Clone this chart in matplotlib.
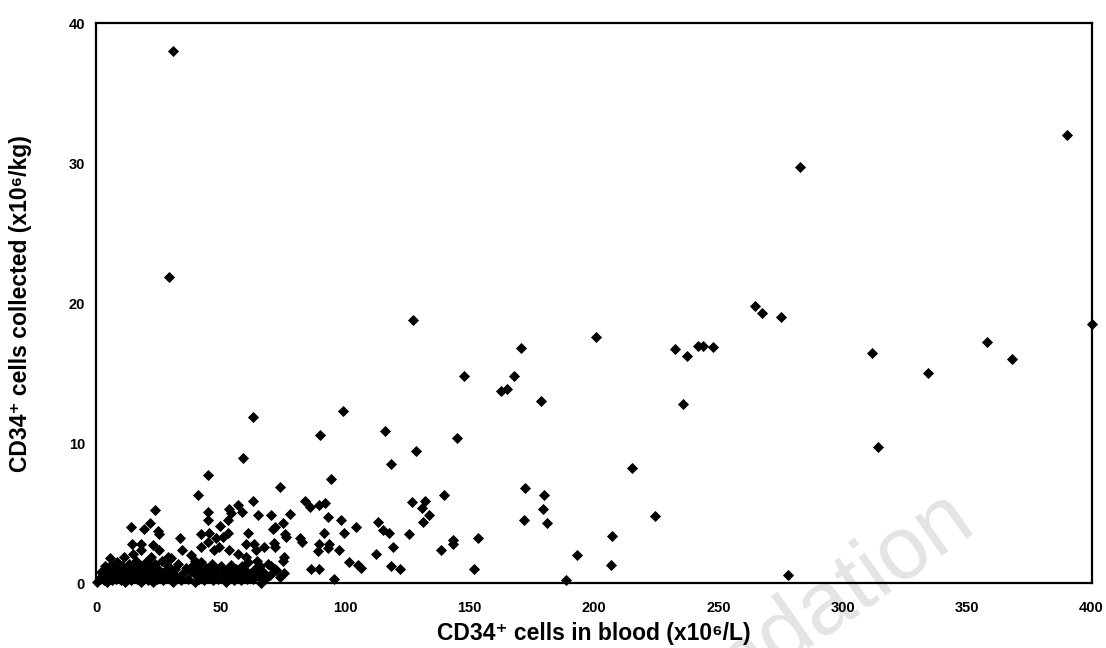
import matplotlib
matplotlib.use("Agg")
import matplotlib.pyplot as plt

plt.rcParams["font.family"] = ["Liberation Sans", "DejaVu Sans"]

# sparse points (upper / right part of the chart)
x_sparse = [30.8, 29.3, 390, 283, 127.2, 400, 264.9, 267.7, 275.3, 200.9, 358.1, 170.5,
            232.4, 242.0, 244.0, 248.0, 311.9, 237.5, 368.1, 334.2, 147.8, 167.9, 162.8,
            165.2, 178.9, 235.8, 63.0, 99.0, 90.0, 116.1, 144.8, 314.2, 128.6, 118.3, 58.8,
            215.3, 44.8, 94.3, 277.8, 188.9, 206.8, 193.3, 207.2, 224.4]
y_sparse = [38.0, 21.9, 32.0, 29.7, 18.8, 18.5, 19.8, 19.3, 19.0, 17.6, 17.2, 16.8,
            16.7, 16.95, 16.95, 16.9, 16.45, 16.2, 16.0, 15.0, 14.8, 14.8, 13.7,
            13.9, 13.0, 12.8, 11.9, 12.3, 10.6, 10.9, 10.4, 9.7, 9.45, 8.5, 8.95,
            8.2, 7.7, 7.45, 0.6, 0.24, 1.3, 2.0, 3.4, 4.8]

# middle cluster (70-185 in blood)
x_mid = [73.9, 172.3, 179.8, 179.6, 171.9, 181.3, 139.6, 126.9, 132.0, 131.1, 133.7, 131.3,
         113.3, 115.3, 117.8, 125.8, 119.3, 112.6, 118.3, 122.2, 138.6, 143.2, 143.2, 153.4,
         152.0, 83.7, 86.1, 89.7, 92.0, 93.0, 98.4, 104.4, 99.7, 91.4, 89.4, 89.0, 93.7,
         93.3, 97.5, 101.5, 105.1, 106.4, 86.3, 89.7, 95.5, 77.8, 75.0, 71.9, 70.9, 75.9,
         76.3, 82.0, 82.6, 71.4, 71.9, 75.6, 75.0, 75.6, 74.0, 70.3, 70.3, 72.3]
y_mid = [6.9, 6.8, 6.3, 5.3, 4.5, 4.3, 6.3, 5.8, 5.9, 5.4, 4.9, 4.4,
         4.4, 3.8, 3.6, 3.55, 2.6, 2.1, 1.2, 1.05, 2.4, 3.1, 2.8, 3.2,
         1.0, 5.9, 5.45, 5.6, 5.7, 4.7, 4.5, 4.0, 3.6, 3.6, 2.8, 2.3, 2.8,
         2.5, 2.4, 1.5, 1.3, 1.1, 1.0, 1.0, 0.3, 4.95, 4.3, 4.0, 3.9, 3.5,
         3.3, 3.2, 2.95, 2.9, 2.6, 1.9, 1.6, 0.7, 0.45, 4.9, 1.2, 0.95]

# lower-left cluster (0-70 in blood, above the dense band)
x_low = [40.8, 23.8, 21.8, 19.4, 14.1, 24.8, 25.4, 14.3, 18.1, 22.8, 25.4, 5.7, 14.7,
         33.5, 34.4, 44.8, 45.1, 42.2, 45.5, 49.9, 52.9, 54.2, 53.5, 56.9, 58.6, 52.9,
         63.2, 64.9, 60.9, 60.2, 63.6, 64.3, 67.6, 64.7, 42.2, 44.9, 47.5, 49.5, 48.2,
         38.2, 39.5, 40.8, 28.8, 30.1, 66.3, 11.0, 18.1, 22.1, 56.9, 53.5, 60.0, 50.9]
y_low = [6.3, 5.2, 4.3, 3.9, 4.0, 3.7, 3.55, 2.8, 2.8, 2.7, 2.4, 1.8, 2.1,
         3.2, 2.4, 5.1, 4.55, 3.5, 3.6, 4.1, 3.6, 5.0, 5.3, 5.6, 5.1, 4.55,
         5.9, 4.9, 3.6, 2.8, 2.8, 2.4, 2.6, 1.6, 2.6, 2.95, 2.35, 2.6, 3.2,
         2.0, 1.6, 0.9, 1.9, 1.8, 0.0, 1.9, 2.4, 1.9, 2.1, 2.4, 1.9, 3.3]

# dense band near zero
x_band = [0.5, 1.5, 2, 2.5, 3, 3.5, 4, 4.5, 5, 5.5, 6, 6.5, 7, 7.5, 8, 8.5, 9, 9.5, 10,
          10.5, 11, 11.5, 12, 12.5, 13, 13.5, 14, 14.5, 15, 15.5, 16, 16.5, 17, 17.5, 18,
          18.5, 19, 19.5, 20, 20.5, 21, 21.5, 22, 22.5, 23, 23.5, 24, 24.5, 25, 26, 26.5,
          27, 27.5, 28, 29, 29.5, 30, 31, 31.5, 32, 33, 34, 35, 36, 37, 38, 39, 39.5, 40,
          41, 41.5, 42, 43, 43.5, 44, 45, 46, 46.5, 47, 48, 48.5, 49, 50, 51, 51.5, 52, 53,
          53.5, 54, 55, 55.5, 56, 57, 57.5, 58, 58.5, 59, 60, 60.5, 61, 62, 63, 64, 65, 66,
          67, 68, 69, 70, 72]
y_band = [0.1, 0.3, 0.8, 0.5, 0.2, 1.2, 0.6, 0.1, 0.9, 0.4, 1.3, 0.2, 0.7, 1.0, 0.3, 1.5, 0.5, 0.9, 0.2,
          1.2, 0.6, 0.1, 1.0, 0.4, 1.4, 0.7, 0.2, 1.1, 0.5, 0.9, 1.6, 0.3, 0.8, 1.3, 0.1,
          0.6, 1.0, 0.4, 1.5, 0.8, 0.2, 1.2, 0.5, 0.9, 0.1, 1.4, 0.7, 0.3, 1.0, 0.5, 1.6,
          0.2, 0.9, 0.6, 1.2, 0.3, 0.8, 0.1, 1.0, 0.5, 1.4, 0.2, 0.7, 1.1, 0.3, 0.9, 1.3, 0.1, 0.6,
          1.0, 0.3, 1.5, 0.7, 0.2, 1.1, 0.5, 0.9, 1.4, 0.2, 0.6, 1.0, 0.3, 1.2, 0.5, 0.8, 0.1, 1.0,
          0.4, 1.3, 0.7, 0.2, 1.0, 0.5, 0.9, 0.2, 1.2, 0.6, 0.9, 0.3, 1.5, 0.7, 0.3, 1.0, 0.5, 1.2,
          0.8, 0.3, 1.4, 0.6, 1.0]

x_ticks = [0, 50, 100, 150, 200, 250, 300, 350, 400]
y_ticks = [0, 10, 20, 30, 40]

fig = plt.figure(figsize=(11.06, 6.48), dpi=100)
ax = fig.add_axes([0.087, 0.100, 0.900, 0.864])
ax.patch.set_alpha(0)

for xs, ys in [(x_sparse, y_sparse), (x_mid, y_mid), (x_low, y_low), (x_band, y_band)]:
    ax.scatter(xs, ys, marker="D", s=32, color="black", linewidths=0, clip_on=False, zorder=3)

ax.set_xlim(0, 400)
ax.set_ylim(0, 40)
ax.set_xticks(x_ticks)
ax.set_yticks(y_ticks)
ax.tick_params(length=0, labelsize=10.5)
ax.tick_params(axis="x", pad=13)
ax.tick_params(axis="y", pad=8)
for lab in ax.get_xticklabels() + ax.get_yticklabels():
    lab.set_fontweight("bold")
for sp in ax.spines.values():
    sp.set_linewidth(1.6)

ax.set_xlabel("CD34\u207a cells in blood (x10\u2076/L)", fontsize=16.5, fontweight="bold", labelpad=5)
ax.set_ylabel("CD34\u207a cells collected (x10\u2076/kg)", fontsize=16.5, fontweight="bold", labelpad=26)

# faint watermark behind everything, only its end shows inside the canvas
ax.text(0.884, 0.188, "Foundation", transform=fig.transFigure, fontsize=64, color="#e4e4e4",
        rotation=35, rotation_mode="anchor", ha="right", va="baseline", zorder=0.5, clip_on=False)

fig.savefig("out.png", dpi=100)
